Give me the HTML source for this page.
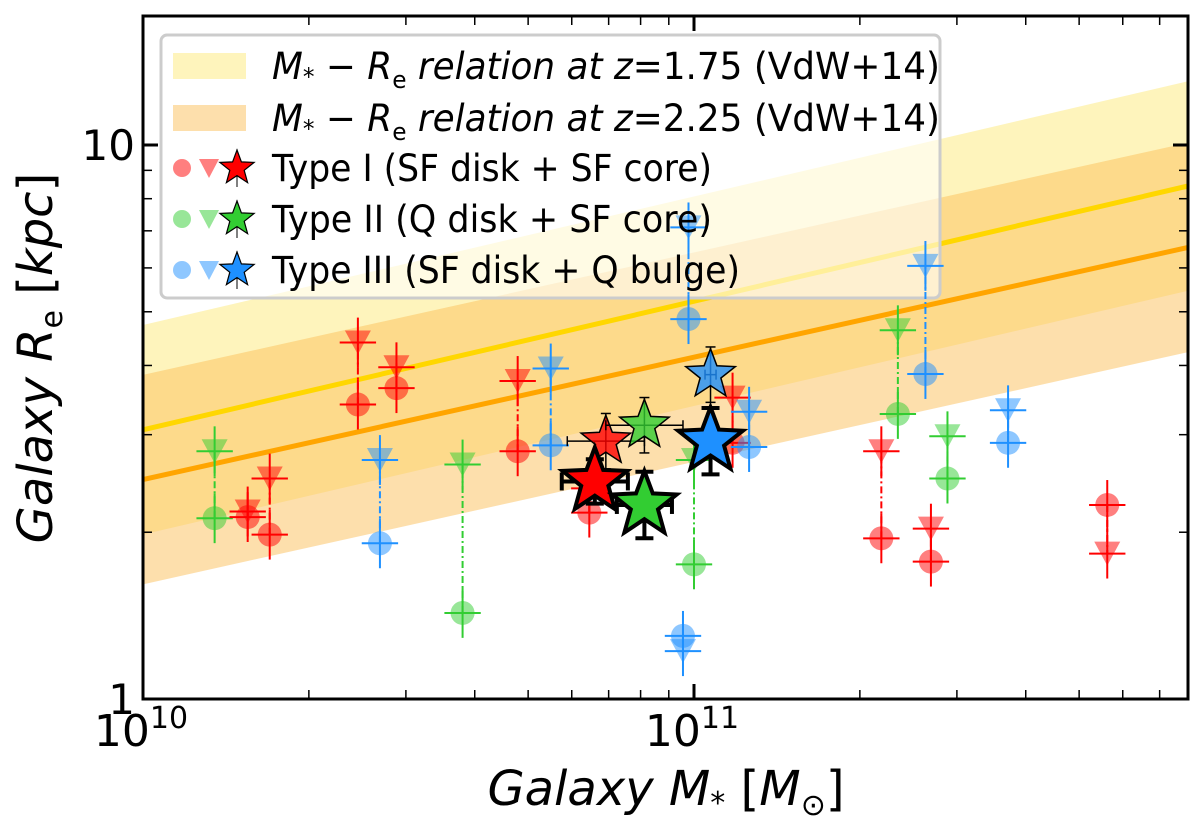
<!DOCTYPE html>
<html><head><meta charset="utf-8"><style>
html,body{margin:0;padding:0;background:#fff;}
svg{display:block;font-family:"DejaVu Sans","Liberation Sans",sans-serif;}
</style></head><body>
<svg id="chart" width="1200" height="824" viewBox="0 0 1200 824" xmlns="http://www.w3.org/2000/svg">
<g id="bands"></g>
<g id="legend"></g>
<g id="marks"></g>
<g id="stars"></g>
<g id="legend2"></g>
<g id="axes"></g>
</svg>
<script>
// ---- data ----
const galMass = [10.13,10.19,10.23,10.39,10.46,10.43,10.58,10.68,10.74,10.81,10.99,11.0,10.98,11.07,11.1,11.34,11.37,11.42,11.43,11.46,11.57,11.75];
const galReCircle = [2.12,2.13,1.98,3.4,3.64,1.91,1.43,2.8,2.87,2.17,4.85,1.75,1.3,2.9,2.85,1.95,3.27,3.86,1.77,2.5,2.9,2.24];
const galReTriangle = [2.8,2.18,2.5,4.4,3.97,2.7,2.65,3.75,3.95,2.4,7.1,2.7,1.22,3.5,3.3,2.8,4.63,6.05,2.03,2.98,3.32,1.83];
const galType = [2,1,1,1,1,3,2,1,3,1,3,2,3,1,3,1,2,3,1,2,3,1];
const starMass = [10.84,10.82,10.91,10.91,11.03,11.03];
const starRe = [2.92,2.47,3.12,2.24,3.85,2.92];
const starXerr = [0.07,0.06,0.07,0.05,0.01,0.02];
const starYerr = [0.05,0.04,0.05,0.06,0.05,0.06];
const starType = [1,1,2,2,3,3];
const starBig = [0,1,0,1,0,1];
const relZ = ["1.75","2.25"];
const relIntercept = [0.486,0.396];
const relSlope = [0.232,0.221];
const relScatter = [0.189,0.189];
const xTickLabels = ["10","11"];
const yTickLabels = ["1","10"];

// ---- scales ----
const X0=143,X1=1188,Y0=16,Y1=699;
const xs = lm => 143 + (lm-10)*551;
const ys = lr => 699 - lr*554;
const NS="http://www.w3.org/2000/svg";
function el(tag,attrs,parent){const e=document.createElementNS(NS,tag);for(const k in attrs)e.setAttribute(k,attrs[k]);parent.appendChild(e);return e;}
const col={1:"#ff0000",2:"#32cd32",3:"#1e90ff"};
const xMaxL = 10+(X1-X0)/551;

const defs=el("defs",{},document.getElementById("chart"));
const cp=el("clipPath",{id:"pc"},defs);
el("rect",{x:X0,y:Y0,width:X1-X0,height:Y1-Y0},cp);

const bands=document.getElementById("bands");
bands.setAttribute("clip-path","url(#pc)");
const bandFill=["#fde97a","#fbc05a"], lineCol=["#ffd700","#ffa500"];
for(let i=0;i<2;i++){
  const a=relIntercept[i], b=relSlope[i], s=relScatter[i];
  const f=lm=>a+b*(lm-10);
  const p=el("polygon",{points:`${xs(10)},${ys(f(10)+s)} ${xs(xMaxL)},${ys(f(xMaxL)+s)} ${xs(xMaxL)},${ys(f(xMaxL)-s)} ${xs(10)},${ys(f(10)-s)}`,fill:bandFill[i],"fill-opacity":0.5},bands);
  
  
}
for(let i=0;i<2;i++){
  const a=relIntercept[i], b=relSlope[i];
  const f=lm=>a+b*(lm-10);
  const l=el("line",{x1:xs(10),y1:ys(f(10)),x2:xs(xMaxL),y2:ys(f(xMaxL)),stroke:lineCol[i],"stroke-width":5},bands);
  
  
}

// legend box (under points)
const lg=document.getElementById("legend");
const lbox=el("rect",{x:161,y:35,width:779,height:263,rx:6,fill:"#fff","fill-opacity":0.6,stroke:"#ccc","stroke-width":3},lg);



const marks=document.getElementById("marks");
const ex=0.033, ey=0.045;
function cross(g,lm,lr,c){
  el("line",{x1:xs(lm-ex),y1:ys(lr),x2:xs(lm+ex),y2:ys(lr),stroke:c,"stroke-width":2},g);
  el("line",{x1:xs(lm),y1:ys(lr-ey),x2:xs(lm),y2:ys(lr+ey),stroke:c,"stroke-width":2},g);
}
for(let i=0;i<galMass.length;i++){
  const c=col[galType[i]];
  const g=el("g",{},marks);
  
  
  const lm=galMass[i], lc=Math.log10(galReCircle[i]), lt=Math.log10(galReTriangle[i]);
  el("line",{x1:xs(lm),y1:ys(lc),x2:xs(lm),y2:ys(lt),stroke:c,"stroke-width":2,"stroke-dasharray":"7,3,2,3"},g);
  const cx=xs(lm), cy=ys(lc), ty=ys(lt);
  el("circle",{cx:cx,cy:cy,r:12,fill:c,"fill-opacity":0.5},g);
  el("polygon",{points:`${cx-13},${ty-12} ${cx+13},${ty-12} ${cx},${ty+12}`,fill:c,"fill-opacity":0.5},g);
  cross(g,lm,lc,c);cross(g,lm,lt,c);
}

function starPts(cx,cy,R){const r=R*0.42;let p=[];for(let k=0;k<10;k++){const a=-Math.PI/2+k*Math.PI/5;const rr=k%2?r:R;p.push((cx+rr*Math.cos(a)).toFixed(1)+","+(cy+rr*Math.sin(a)).toFixed(1));}return p.join(" ");}
const stars=document.getElementById("stars");
const order=[0,2,4,1,3,5];
for(const i of order){
  const g=el("g",{},stars);
  
  
  const lm=starMass[i], lr=Math.log10(starRe[i]);
  const cx=xs(lm), cy=ys(lr);
  const big=starBig[i], sw=big?4:1.5, cap=big?9:5;
  const x1=xs(lm-starXerr[i]), x2=xs(lm+starXerr[i]), y1=ys(lr-starYerr[i]), y2=ys(lr+starYerr[i]);
  el("line",{x1:x1,y1:cy,x2:x2,y2:cy,stroke:"#000","stroke-width":sw},g);
  el("line",{x1:cx,y1:y1,x2:cx,y2:y2,stroke:"#000","stroke-width":sw},g);
  el("line",{x1:x1,y1:cy-cap,x2:x1,y2:cy+cap,stroke:"#000","stroke-width":sw},g);
  el("line",{x1:x2,y1:cy-cap,x2:x2,y2:cy+cap,stroke:"#000","stroke-width":sw},g);
  el("line",{x1:cx-cap,y1:y1,x2:cx+cap,y2:y1,stroke:"#000","stroke-width":sw},g);
  el("line",{x1:cx-cap,y1:y2,x2:cx+cap,y2:y2,stroke:"#000","stroke-width":sw},g);
  el("polygon",{points:starPts(cx,cy,big?34:26),fill:col[starType[i]],"fill-opacity":big?1:0.8,stroke:"#000","stroke-width":big?4:1.5},g);
}

// legend entries
const lg2=document.getElementById("legend2");
const rowsY=[66,118,168,219,270];
const legTxt=[null,null,"Type I (SF disk + SF core)","Type II (Q disk + SF core)","Type III (SF disk + Q bulge)"];
const legLen=[668,668,440,440,468];
for(let i=0;i<2;i++){
  const r=el("rect",{x:173,y:rowsY[i]-13,width:73,height:26,fill:bandFill[i],"fill-opacity":0.5},lg2);
  
  
  const t=el("text",{x:272,y:rowsY[i]+13,"font-size":37,fill:"#000",textLength:legLen[i],lengthAdjust:"spacingAndGlyphs"},lg2);
  
  
  t.innerHTML=`<tspan font-style="italic">M</tspan><tspan font-size="24" dy="6">*</tspan><tspan dy="-6"> − </tspan><tspan font-style="italic">R</tspan><tspan font-size="24" dy="9">e</tspan><tspan dy="-9" font-style="italic"> relation at z</tspan>=${relZ[i]} (VdW+14)`;
}
for(let i=2;i<5;i++){
  const c=col[i-1];
  const y=rowsY[i];
  const g=el("g",{},lg2);
  
  
  el("circle",{cx:182,cy:y,r:9,fill:c,"fill-opacity":0.5},g);
  el("polygon",{points:`${199},${y-9} ${219},${y-9} ${209},${y+10}`,fill:c,"fill-opacity":0.5},g);
  el("line",{x1:237,y1:y-19,x2:237,y2:y+19,stroke:"#000","stroke-width":1},g);
  el("polygon",{points:starPts(237,y,18),fill:c,stroke:"#000","stroke-width":1.2},g);
  const t=el("text",{x:272,y:y+13,"font-size":37,fill:"#000",textLength:legLen[i],lengthAdjust:"spacingAndGlyphs"},g);
  t.textContent=legTxt[i];
}

// axes
const ax=document.getElementById("axes");
const frame=el("rect",{x:X0,y:Y0,width:X1-X0,height:Y1-Y0,fill:"none",stroke:"#000","stroke-width":3},ax);


function tick(x1,y1,x2,y2,w){el("line",{x1:x1,y1:y1,x2:x2,y2:y2,stroke:"#000","stroke-width":w},ax);}
for(let d=10;d<12;d++){for(let m=1;m<10;m++){const lm=d+Math.log10(m);if(lm>xMaxL)break;const x=xs(lm);const L=m===1?15:9,w=m===1?3:1.5;tick(x,Y1,x,Y1-L,w);tick(x,Y0,x,Y0+L,w);}}
for(let d=0;d<2;d++){for(let m=1;m<10;m++){const lr=d+Math.log10(m);const y=ys(lr);if(y<Y0)break;const L=m===1?15:9,w=m===1?3:1.5;tick(X0,y,X0+L,y,w);tick(X1,y,X1-L,y,w);}}
xTickLabels.forEach((e,i)=>{const t=el("text",{x:xs(10+i)-2,y:746,"font-size":44,"text-anchor":"middle",fill:"#000"},ax);


t.innerHTML=`10<tspan font-size="30" dy="-18">${e}</tspan>`;});
yTickLabels.forEach((e,i)=>{const t=el("text",{x:X0-8,y:ys(i)+15,"font-size":42,"text-anchor":"end",fill:"#000"},ax);


t.textContent=e;});
const xl=el("text",{x:666,y:805,"font-size":48,"text-anchor":"middle",fill:"#000"},ax);


xl.innerHTML=`<tspan font-style="italic">Galaxy M</tspan><tspan font-size="30" dy="8">*</tspan><tspan dy="-8"> [</tspan><tspan font-style="italic">M</tspan><tspan font-size="30" dy="10">⊙</tspan><tspan dy="-10">]</tspan>`;
const yl=el("text",{x:0,y:0,"font-size":48,"text-anchor":"middle",fill:"#000",transform:"translate(52,358) rotate(-90)"},ax);


yl.innerHTML=`<tspan font-style="italic">Galaxy R</tspan><tspan font-size="30" dy="10">e</tspan><tspan dy="-10"> [</tspan><tspan font-style="italic">kpc</tspan>]`;
</script>
</body></html>
